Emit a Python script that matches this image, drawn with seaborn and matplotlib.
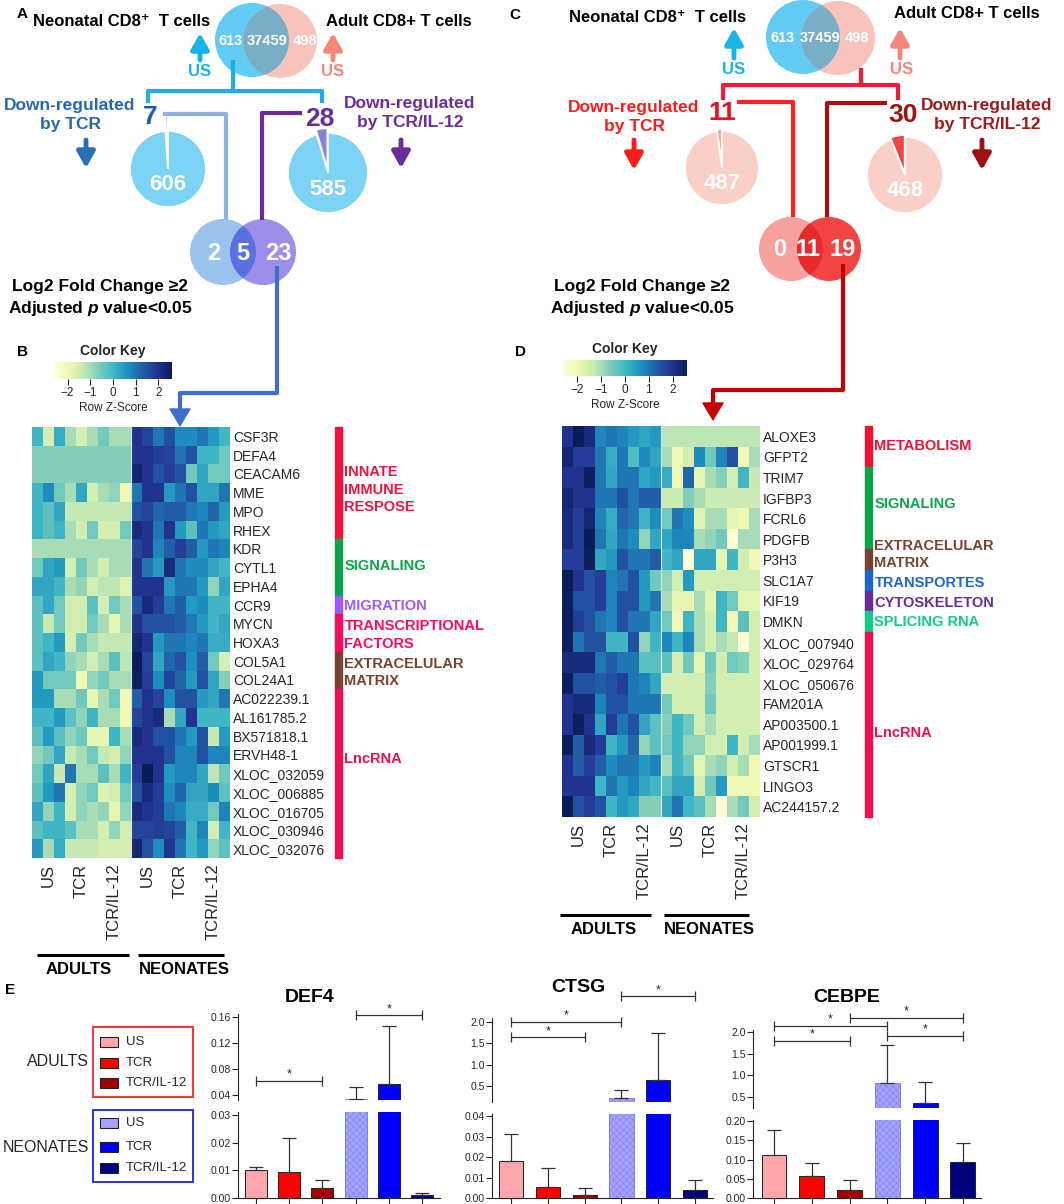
import numpy as np
import pandas as pd
import seaborn as sns
import matplotlib
matplotlib.use('Agg')
from matplotlib import pyplot as plt
from matplotlib.patches import Circle, Rectangle

sns.set_style('ticks')
plt.rcParams['font.family'] = ['Liberation Sans', 'DejaVu Sans']
plt.rcParams['mathtext.fontset'] = 'custom'
plt.rcParams['mathtext.it'] = 'Liberation Sans:italic:bold'
plt.rcParams['mathtext.rm'] = 'Liberation Sans:bold'
plt.rcParams['hatch.linewidth'] = 0.4

W, H = 1064, 1204

# ---- data ----
venn_us = [613, 37459, 498]          # neonatal only, shared, adult only
pie_a_tcr = [7, 606]
pie_a_il12 = [28, 585]
venn_a_low = [2, 5, 23]
pie_c_tcr = [11, 487]
pie_c_il12 = [30, 468]
venn_c_low = [0, 11, 19]

conds = ['US', 'TCR', 'TCR/IL-12']

genes_b = ['CSF3R', 'DEFA4', 'CEACAM6', 'MME', 'MPO', 'RHEX', 'KDR', 'CYTL1', 'EPHA4',
           'CCR9', 'MYCN', 'HOXA3', 'COL5A1', 'COL24A1', 'AC022239.1', 'AL161785.2',
           'BX571818.1', 'ERVH48-1', 'XLOC_032059', 'XLOC_006885', 'XLOC_016705',
           'XLOC_030946', 'XLOC_032076']
z_b = np.array([
    [0, -1.5, 0.2, -1, -1.5, -1, -0.5, -1, -1, 2, 1.7, 1, 1.5, 0.7, 0.7, 1, 0.5, 0],
    [-0.7, -0.7, -0.7, -0.7, -0.7, -0.7, -0.7, -0.7, -0.7, 2, 2, 1.8, 1.7, 1, 1.5, 0, 0, -0.5],
    [-0.7, -0.7, -0.7, -0.7, -0.7, -0.7, -0.7, -0.7, -0.7, 2.3, 2, 1.5, 1.8, 1.5, -0.5, 0.3, -0.5, -0.5],
    [0, 0.7, -0.5, -1, 0.3, -1.5, -1, -0.8, -2, 1, 2, 2, 0.5, 1, 1.5, 0.3, 0.3, 1],
    [0, -0.3, 0.3, -1.3, -1.3, -1.3, -1.3, -1.3, -1.3, 1.5, 1.7, 1.2, 1.3, 1.3, 1, 0.8, 1.2, 0.5],
    [0, -0.3, 0, -1, -1.5, -0.5, -1.5, -1.5, -0.5, 2.2, 2, 1, 2, 0.5, -0.3, 1, 0.5, 0.3],
    [-1, -1, -1, -1, -1, -1, -1, -1, -1, 1.7, 2, 0.8, 1.3, 1.8, 1.3, 0.5, 1, 0.8],
    [-0.5, 0.3, 0.5, -1.5, -0.5, -1, -1.5, -1, -1, 2, 1, 0.5, 2.2, 1, 0.7, 0.7, 0.3, 0],
    [0.3, 0.3, 0, -1, -0.8, -1.5, -1.2, -1.2, -1.7, 2, 2, 2, 0.5, 1, 1, 0.5, -0.8, 0.3],
    [-0.3, 0.3, -0.5, -1.5, -1.5, -0.3, -1.5, -0.5, -1, 1.5, 2.2, 1.8, 1, 1.3, 0.5, 0.7, 0, 0],
    [-0.3, -1.3, -0.5, -1.5, -1.5, -0.5, -1, -1.8, -1, 2, 1.5, 1.5, 1.5, 1.3, 1, 0.5, 0, 0.3],
    [-0.3, 0, 0.5, -1.5, -0.5, -1, -1.3, -1.3, -1.3, 2.3, 2, 0.5, 1, 1, 0.8, 1, 0.2, 0.2],
    [-0.3, 0.3, 0, -0.8, -1, -1.5, -1, -0.3, -1.2, 2.8, 1.7, 0.3, 1.2, 1.5, 0.7, 1.3, -0.5, -1.5],
    [0.5, -0.5, -0.5, -0.5, -2, -0.8, -0.5, -1, -1, 2.5, 1.8, 0.7, 1.7, 1.2, 0.5, 1.5, 0.3, -0.7],
    [0.5, 0.5, -1, -1, -0.5, -1.8, -1, -0.5, -2, 1.3, 2, 1.7, 0.7, 1.5, 1.5, 0.5, 0.3, 1],
    [0, 0, 0.5, -0.3, -0.8, 0, -1, -1, -2, 1.7, 2, 2.2, -1, 0.3, 2, 0, 0, 0],
    [-0.3, 0.5, -0.3, -0.8, -0.5, -1.8, -1.8, 0, -1, 2.2, 2, 1.5, 1.5, 1, 0.5, 1.5, -1.3, 0.5],
    [-0.8, -0.5, 0.3, -1.3, -1, -0.5, -1.3, -1.5, -0.8, 2, 2, 2, 1.5, 0.8, 0.8, 1.5, 0.8, 0.8],
    [-0.5, 0.3, -1.3, 1, -1, -1, -0.3, -1, 0, 1.8, 2.8, 2, 0.5, 0.8, 0.8, 0.3, -1.2, -0.5],
    [-0.3, 0.5, 1, -1.5, -0.8, -0.5, -1.7, -1.5, -0.5, 1.5, 2.2, 1.8, 0.7, 1.2, 0.3, 0.3, 0.7, -0.3],
    [0.3, -0.8, 0, -1.5, -0.8, -1, -0.8, -1.8, -0.8, 2.2, 2, 1.8, 1, 0.8, 0.2, 0.2, -0.5, 0.8],
    [-0.3, 0, 0, -0.3, -1, -1, -1.5, -0.8, -1.5, 1.7, 1.7, 1.8, 1.7, 1.3, 0, 0.8, -1.5, 0],
    [0.5, -1, 0.2, -1.3, -1.3, -1.3, -1.5, -1.5, -1.5, 2.3, 1.5, 0.7, 2, 1, 0, 0.5, -0.8, -0.3],
])

genes_d = ['ALOXE3', 'GFPT2', 'TRIM7', 'IGFBP3', 'FCRL6', 'PDGFB', 'P3H3', 'SLC1A7', 'KIF19',
           'DMKN', 'XLOC_007940', 'XLOC_029764', 'XLOC_050676', 'FAM201A', 'AP003500.1',
           'AP001999.1', 'GTSCR1', 'LINGO3', 'AC244157.2']
z_d = np.array([
    [2, 2.8, 2.2, 0.8, 1, 0.8, 0.5, 0.3, 0.5, -1.2, -1.2, -1.2, -1.2, -1.2, -1.2, -1.2, -1.2, -1.2],
    [2.3, 1.8, 1.8, 1, 0.2, 1, -0.2, 0.7, 0.3, -1, -2, -1.5, 0.7, -0.5, 0.8, 1.5, -2, -1],
    [2, 2, 2.5, 1, 0.3, 1, 1, 0.3, 0.5, 0.2, -2, 1.2, -1.8, -1, -0.7, -1.5, 0, -1.3],
    [2.3, 2, 2, 1, 1, 1.5, 1, 1.3, 1.3, -1.4, -1.4, -0.7, -1, -1.4, -1.4, -1.4, -1.4, -1.4],
    [2.2, 1.8, 2.3, 0.8, 0.2, 1.2, 1, 0, 0.7, -0.5, 1, 0.7, -1.7, -1, -1, -1.8, -2, -1],
    [2.2, 1.8, 2.8, 1, 0.3, 1, 0.7, -0.8, 0.3, 0.3, 0.8, 0.8, -1, -0.8, -0.5, -2.5, -1, -1],
    [1.8, 1.8, 2.5, 0.3, 0.5, 1.5, 1, 1, 1.3, 0, 0.3, -2.5, 0.3, 0.3, -1.8, 0, -1.5, -2],
    [2.8, 2, 1.5, 1.8, 0.8, 1, 1.5, 0.5, -0.5, -0.8, -1.5, 0.5, -1.5, -1.5, -1.5, -1.5, -1.5, -1.5],
    [2.5, 1.5, 1.5, 1.8, 0.8, 1.5, 1.5, 0.5, 1, -1, -1.8, -1.8, -1, -1.8, 0, -0.5, -1.8, -1.8],
    [2.5, 1.8, 1.5, 1, 0.8, 1.5, 1, 1, 0.3, -0.5, -2, 0, -1, -1.5, 0, -2, -0.3, -1.5],
    [2.5, 1, 1.5, 1.5, 0, 0, 1.5, -0.8, 0, 0.8, 0, 0.8, -1, -1.5, -1, -1.3, -2.5, -1.5],
    [2.2, 2.2, 2.2, 1, 1.3, 1, 1, -0.3, -0.3, -0.3, -1.5, -0.5, -1.8, -0.5, -1.5, -0.5, -0.7, -1.5],
    [2.5, 1.5, 1.5, 1.3, 1.5, 1.8, 1, 0.8, 0.3, -1.5, -1.5, -1.5, -1.5, -0.7, -1.5, -1.5, -1.5, -1.5],
    [2, 2.2, 2.2, 0.8, 1.5, 1.5, 1, 1, 1, -0.5, -1.5, -1.5, -1.5, -0.5, -1.5, -1.5, -1.5, -1.5],
    [2, 2.5, 2, 0.3, 1.8, 1, 1.5, 0.3, -0.3, -0.7, 0, -0.5, -1.5, -1, -1.5, -1.5, -1.5, -1.5],
    [2.5, 1.3, 2.2, 1.8, 0, 0.5, 1.2, -0.8, -0.3, -0.5, 0, -0.8, -0.8, -1.5, -1.5, 0, -1.5, -1],
    [2, 1.3, 1.8, 1.3, 0.7, 1, 1, 0.5, 0.8, -1, 0, -0.5, -1.8, -1, -0.8, -1.5, -1, -2],
    [2, 2, 2, 0, 1, 0.5, 0.8, 0.3, 0, -0.3, 0.3, 0.3, -1.5, -0.5, 0.5, -2, -2, -2],
    [2.8, 1.5, 1.8, 1.5, 0, 0.5, 0.3, -0.7, -0.7, 0.3, 1, 0, -0.3, -1, -2.8, -1, -0.5, -1.5],
])

# category bars: label, first row, last row (exclusive), colour, text row
cats_b = [('INNATE\nIMMUNE\nRESPOSE', 0, 6, '#f0143c', 3.35),
          ('SIGNALING', 6, 9, '#0aa54a', 7.4),
          ('MIGRATION', 9, 10, '#9b5cff', 9.55),
          ('TRANSCRIPTIONAL\nFACTORS', 10, 12, '#ff0a5a', 11.1),
          ('EXTRACELULAR\nMATRIX', 12, 14, '#7a4030', 13.1),
          ('LncRNA', 14, 23, '#ee1150', 17.7)]
cats_d = [('METABOLISM', 0, 2, '#ee1133', 0.97),
          ('SIGNALING', 2, 6, '#0aa54a', 3.8),
          ('EXTRACELULAR\nMATRIX', 6, 7, '#7a4030', 6.25),
          ('TRANSPORTES', 7, 8, '#1a66cc', 7.63),
          ('CYTOSKELETON', 8, 9, '#6a2c9b', 8.6),
          ('SPLICING RNA', 9, 10, '#10cc88', 9.52),
          ('LncRNA', 10, 19, '#ee1150', 14.9)]

bar_groups = ['Adult US', 'Adult TCR', 'Adult TCR/IL-12', 'Neonate US', 'Neonate TCR', 'Neonate TCR/IL-12']
bar_colors = ['#ffa6ac', '#ff0000', '#a50000', '#a3a3ff', '#0000ff', '#00007f']
def4_mean = [0.0100, 0.0093, 0.0035, 0.034, 0.057, 0.0012]
def4_sd = [0.0012, 0.0124, 0.0030, 0.018, 0.089, 0.0006]
ctsg_mean = [0.018, 0.0053, 0.0015, 0.22, 0.64, 0.004]
ctsg_sd = [0.013, 0.0092, 0.0035, 0.19, 1.11, 0.005]
cebpe_mean = [0.113, 0.057, 0.022, 0.82, 0.37, 0.094]
cebpe_sd = [0.064, 0.035, 0.024, 0.88, 0.47, 0.048]
def4_sig = [(0, 2, 0.062), (3, 5, 0.163)]
ctsg_sig = [(0, 3, 2.0), (0, 2, 1.64), (3, 5, 2.6)]
cebpe_sig = [(0, 3, 2.14), (0, 2, 1.79), (2, 5, 2.32), (3, 5, 1.91)]

# ---- figure ----
fig = plt.figure(figsize=(W / 100, H / 100), dpi=100)


def px_axes(x0, y0, x1, y1):
    return fig.add_axes([x0 / W, 1 - y1 / H, (x1 - x0) / W, (y1 - y0) / H])


ov = px_axes(0, 0, W, H)
ov.set_xlim(0, W)
ov.set_ylim(H, 0)
ov.axis('off')
ov.set_zorder(10)


def txt(x, y, s, size=12, color='black', weight='bold', ha='center', **kw):
    ov.text(x, y, s, fontsize=size, color=color, fontweight=weight, ha=ha, va='center', **kw)


def line(xs, ys, color, lw=3):
    ov.plot(xs, ys, color=color, lw=lw, solid_joinstyle='round', solid_capstyle='butt')


def arrow(x, y0, y1, color, lw=3.5, hw=0.45, hl=0.8):
    ov.annotate('', xy=(x, y1), xytext=(x, y0),
                arrowprops=dict(arrowstyle=f'-|>,head_width={hw},head_length={hl}', lw=lw,
                                color=color, shrinkA=0, shrinkB=0, mutation_scale=12))


def venn(c1, c2, r, col1, col2, colx, counts, xs, y, size):
    p1 = Circle(c1, r, fc=col1, ec='none')
    p2 = Circle(c2, r, fc=col2, ec='none')
    ov.add_patch(p1)
    ov.add_patch(p2)
    px = Circle(c1, r, fc=colx, ec='none')
    ov.add_patch(px)
    px.set_clip_path(p2)
    for x, n in zip(xs, counts):
        txt(x, y, str(n), size=size, color='white')


def pie(cx, cy, r, counts, colors, explode):
    s = 1.7
    ax = px_axes(cx - r * s, cy - r * s, cx + r * s, cy + r * s)
    ax.pie(counts, colors=colors, explode=explode, startangle=90, counterclock=True,
           wedgeprops=dict(linewidth=1.2, edgecolor='white'))
    ax.set_xlim(-s, s)
    ax.set_ylim(-s, s)
    ax.set_aspect('equal')
    ax.axis('off')
    txt(cx, cy + 0.42 * r, str(counts[1]), size=16, color='white')


# ---- panel A ----
txt(22, 14, 'A', size=11)
txt(122, 22, 'Neonatal CD8\u207a  T cells')
txt(399, 21, 'Adult CD8+ T cells')
venn((252, 40), (280, 41), 37, '#62cbf4', '#f8c3bb', '#79aec8', venn_us, [231, 267, 305], 41, 10.5)
arrow(200, 60, 33, '#18b4ee')
txt(200, 72, 'US', color='#18b4ee')
arrow(333, 60, 33, '#f4877a')
txt(333, 72, 'US', color='#f4877a')
line([233, 233], [60, 91], '#1aaeea')
line([148, 148, 322, 322], [103, 91, 91, 103], '#1aaeea')
txt(70, 115, 'Down-regulated\nby TCR', size=12.5, color='#2468b4', linespacing=1.3)
arrow(86, 140, 168, '#2a6db5')
txt(410, 113, 'Down-regulated\nby TCR/IL-12', size=12.5, color='#6a2ca0', linespacing=1.3)
arrow(401, 140, 168, '#6a2c9b')
pie(168, 169, 38, pie_a_tcr, ['#9fb8e8', '#7dd3f4'], (0.4, 0))
pie(328, 173, 40, pie_a_il12, ['#8a80e0', '#7dd3f4'], (0.12, 0))
txt(150, 117, str(pie_a_tcr[0]), size=19, color='#1a5cb0')
txt(320, 119, str(pie_a_il12[0]), size=19, color='#6a2c9b')
line([163, 226, 226], [114, 114, 220], '#8eb0e2')
line([302, 262, 262], [113, 113, 220], '#6a2c9b')
venn((223, 252), (263, 252), 33, '#9ac4ee', '#9c8fea', '#5a6fe0', venn_a_low, [214, 243, 278], 254, 17)
line([277, 277, 180, 180], [266, 393, 393, 412], '#3f6dcd')
arrow(180, 405, 427, '#3f6dcd', lw=1, hw=0.6, hl=1.0)
txt(100, 286, 'Log2 Fold Change \u22652', size=12.5)
txt(100, 309, 'Adjusted $\\mathit{p}$ value<0.05', size=12.5)

# ---- panel C ----
txt(515, 15, 'C', size=11)
txt(658, 17, 'Neonatal CD8\u207a  T cells')
txt(967, 14, 'Adult CD8+ T cells')
venn((803, 37), (838, 38), 37, '#62cbf4', '#f8c3bb', '#79aec8', venn_us, [783, 820, 857], 38, 10.5)
arrow(734, 58, 28, '#18b4ee')
txt(734, 70, 'US', color='#18b4ee')
arrow(900, 58, 28, '#f4877a')
txt(902, 70, 'US', color='#f4877a')
line([861, 861], [68, 85], '#f01a3c')
line([723, 723, 898, 898], [100, 85, 85, 100], '#f01a3c')
txt(634, 117, 'Down-regulated\nby TCR', size=12.5, color='#ff1a1a', linespacing=1.3)
arrow(634, 140, 170, '#ff1a1a')
txt(987, 115, 'Down-regulated\nby TCR/IL-12', size=12.5, color='#a01818', linespacing=1.3)
arrow(982, 140, 170, '#a01010')
pie(722, 168, 37, pie_c_tcr, ['#f9a8a0', '#f9cfc8'], (0.05, 0))
pie(905, 175, 38, pie_c_il12, ['#ef4444', '#f9cfc8'], (0.05, 0))
txt(722, 113, str(pie_c_tcr[0]), size=19, color='#f01020')
txt(903, 115, str(pie_c_il12[0]), size=19, color='#a01010')
line([737, 793, 793], [102, 102, 217], '#ff2020')
line([887, 827, 827], [103, 103, 217], '#a80f0f')
venn((791, 249), (829, 249), 32, '#f6a0a0', '#f34444', '#e42a2a', venn_c_low, [780, 808, 843], 250, 17)
line([843, 843, 713, 713], [264, 390, 390, 405], '#c40000')
arrow(713, 400, 421, '#c40000', lw=1, hw=0.6, hl=1.0)
txt(642, 286, 'Log2 Fold Change \u22652', size=12.5)
txt(642, 309, 'Adjusted $\\mathit{p}$ value<0.05', size=12.5)


# ---- heatmaps B and D ----
def heat_panel(z, genes, box, cbox, cats):
    ax = px_axes(*box)
    cax = px_axes(*cbox)
    sns.heatmap(z, cmap='YlGnBu', vmin=-2.6, vmax=2.6, ax=ax, cbar_ax=cax,
                cbar_kws={'orientation': 'horizontal', 'ticks': [-2, -1, 0, 1, 2]},
                xticklabels=False, yticklabels=False)
    ax.axvline(9, color='#c8ece0', lw=0.8)
    ax.set_xticks([1.5, 4.5, 7.5, 10.5, 13.5, 16.5])
    ax.set_xticklabels(conds * 2, rotation=90, fontsize=12)
    ax.yaxis.tick_right()
    ax.set_yticks(np.arange(len(genes)) + 0.5)
    ax.set_yticklabels(genes, rotation=0, fontsize=10)
    ax.tick_params(length=0, pad=2)
    ax.tick_params(axis='x', pad=4)
    cax.set_title('Color Key', fontsize=10, fontweight='bold', pad=5)
    cax.set_xlabel('Row Z-Score', fontsize=8.5, labelpad=2)
    cax.tick_params(labelsize=8.5, length=4, pad=2)
    for label, r0, r1, color, ty in cats:
        ax.add_patch(Rectangle((27.5, r0), 0.7, r1 - r0, color=color, clip_on=False))
        ax.text(28.4, ty, label, color=color, fontsize=10.5, fontweight='bold',
                va='center', ha='left', linespacing=1.3, clip_on=False)
    return ax


txt(22, 352, 'B', size=11)
heat_panel(z_b, genes_b, (32, 427, 230, 858), (54, 362, 172, 379), cats_b)
line([37, 129], [955, 955], 'black', lw=2.2)
line([138, 224], [955, 955], 'black', lw=2.2)
txt(79, 969, 'ADULTS', size=12)
txt(184, 969, 'NEONATES', size=12)

txt(520, 352, 'D', size=11)
heat_panel(z_d, genes_d, (562, 426, 760, 817), (563, 360, 687, 376), cats_d)
line([560, 651], [915, 915], 'black', lw=2.2)
line([664, 749], [915, 915], 'black', lw=2.2)
txt(604, 929, 'ADULTS', size=12)
txt(709, 929, 'NEONATES', size=12)

# ---- panel E ----
txt(10, 990, 'E', size=11)
for (y0, y1), title, ty, edge, cols, rows in [
        ((1027, 1097), 'ADULTS', 1062, '#ff3030', bar_colors[:3], [1042, 1063, 1083]),
        ((1110, 1182), 'NEONATES', 1147, '#3030e0', bar_colors[3:], [1123, 1147, 1168])]:
    ov.add_patch(Rectangle((93, y0), 100, y1 - y0, fc='none', ec=edge, lw=1.4))
    ov.text(89, ty, title, fontsize=11.5, ha='right', va='center')
    for c, lab, yy in zip(cols, conds, rows):
        ov.add_patch(Rectangle((100, yy - 5), 18, 10, fc=c, ec='#222', lw=0.8))
        ov.text(126, yy, lab, fontsize=9.5, ha='left', va='center')


def bar_panel(title, title_xy, mean, sd, lo_box, hi_box, xlim, lo_lim, hi_lim,
              lo_ticks, hi_ticks, lo_fmt, hi_fmt, sig):
    df = pd.DataFrame({'group': bar_groups, 'value': mean})
    axl = px_axes(*lo_box)
    axh = px_axes(*hi_box)
    for ax, lim, ticks, fmt in [(axl, lo_lim, lo_ticks, lo_fmt), (axh, hi_lim, hi_ticks, hi_fmt)]:
        sns.barplot(data=df, x='group', y='value', hue='group', palette=bar_colors, legend=False,
                    width=0.66, saturation=1, edgecolor='#222', linewidth=0.7, errorbar=None, ax=ax)
        ax.errorbar(np.arange(6), mean, yerr=[np.zeros(6), sd], fmt='none', ecolor='#333',
                    elinewidth=0.9, capsize=5, capthick=0.9)
        ax.patches[3].set_hatch('xxxxx')
        ax.patches[3].set_edgecolor('#8080e8')
        ax.set_xlim(*xlim)
        ax.set_ylim(*lim)
        ax.set_xlabel('')
        ax.set_ylabel('')
        ax.set_yticks(ticks)
        ax.set_yticklabels([fmt.format(t) for t in ticks], fontsize=7.5)
        ax.tick_params(axis='y', length=4, width=0.8, pad=1)
        ax.patch.set_visible(False)
        for s in ('top', 'right'):
            ax.spines[s].set_visible(False)
    axl.set_xticks(range(6))
    axl.set_xticklabels([])
    axl.tick_params(axis='x', length=4, width=0.8)
    axh.spines['bottom'].set_visible(False)
    axh.set_xticks([])
    for i, j, y in sig:
        axh.plot([i, j], [y, y], color='#333', lw=0.9, marker='|', markersize=7,
                 markeredgewidth=0.9, clip_on=False)
        axh.text((i + j) / 2, y, '*', ha='center', va='bottom', fontsize=9, clip_on=False)
    txt(title_xy[0], title_xy[1], title, size=14)


bar_panel('DEF4', (310, 998), def4_mean, def4_sd, (238, 1112, 440, 1198), (238, 1014, 440, 1100),
          (-0.54, 5.54), (0, 0.0311), (0.0323, 0.1646),
          [0, 0.01, 0.02, 0.03], [0.04, 0.08, 0.12, 0.16], '{:.2f}', '{:.2f}', def4_sig)
bar_panel('CTSG', (578, 988), ctsg_mean, ctsg_sd, (492, 1114, 713, 1198), (492, 1018, 713, 1102),
          (-0.52, 5.49), (0, 0.041), (0.125, 2.09),
          [0, 0.01, 0.02, 0.03, 0.04], [0.5, 1.0, 1.5, 2.0], '{:.2f}', '{:.1f}', ctsg_sig)
bar_panel('CEBPE', (847, 997), cebpe_mean, cebpe_sd, (753, 1120, 981, 1198), (753, 1030, 981, 1108),
          (-0.555, 5.48), (0, 0.203), (0.25, 2.04),
          [0, 0.05, 0.10, 0.15, 0.20], [0.5, 1.0, 1.5, 2.0], '{:.2f}', '{:.1f}', cebpe_sig)

fig.savefig('out.png', dpi=100)
